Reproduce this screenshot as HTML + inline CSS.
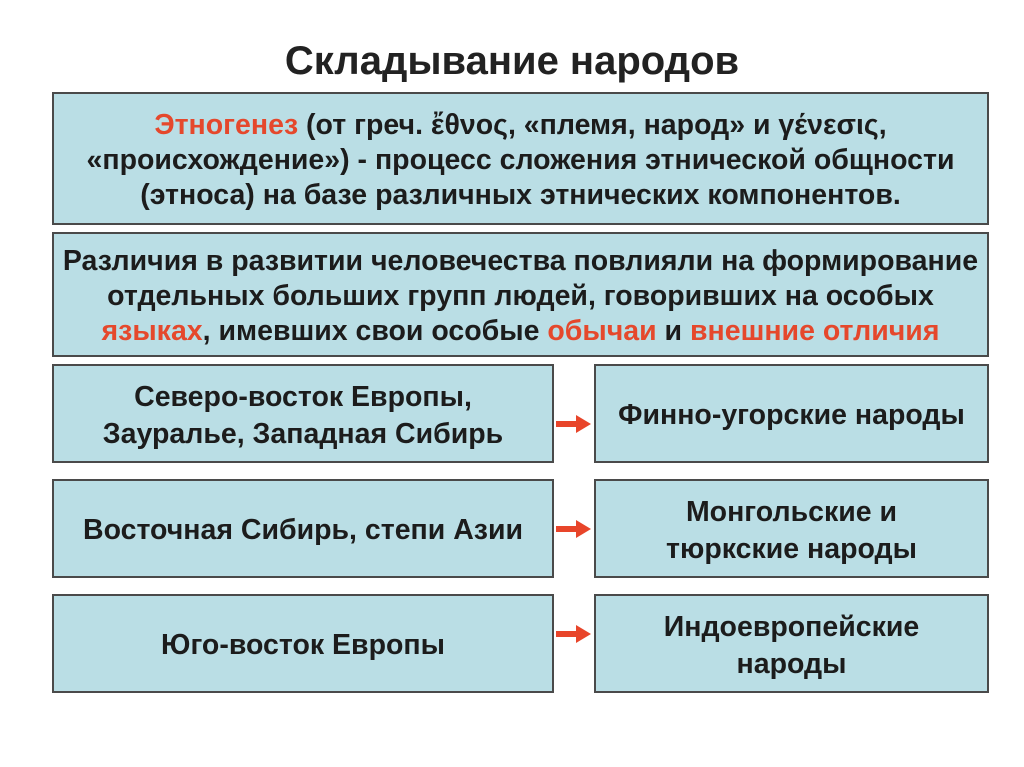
<!DOCTYPE html>
<html><head><meta charset="utf-8"><style>
body{margin:0;width:1024px;height:767px;background:#fff;position:relative;overflow:hidden;font-family:"Liberation Sans",sans-serif;font-weight:bold;color:#1c1c1c}
.t{position:absolute;left:0;width:1024px;top:39px;text-align:center;font-size:40px;color:#222}
.b{position:absolute;background:#badee5;border:2px solid #4a4a4a;box-sizing:border-box;display:flex;align-items:center;justify-content:center;text-align:center;font-size:28.5px;line-height:35px;white-space:nowrap}
.b>div{position:relative;top:2px}
.s{line-height:37px}
.r{color:#e5482c}
.a{position:absolute;left:556px;width:36px;height:20px}
</style></head><body>
<div class="t">Складывание народов</div>
<div class="b" style="left:52px;top:92px;width:937px;height:133px">
<div><span class="r">Этногенез</span> (от греч. ἔθνος, «племя, народ» и γένεσις,<br>«происхождение») - процесс сложения этнической общности<br>(этноса) на базе различных этнических компонентов.</div></div>
<div class="b" style="left:52px;top:232px;width:937px;height:125px">
<div>Различия в развитии человечества повлияли на формирование<br>отдельных больших групп людей, говоривших на особых<br><span class="r">языках</span>, имевших свои особые <span class="r">обычаи</span> и <span class="r">внешние отличия</span></div></div>
<div class="b s" style="left:52px;top:364px;width:502px;height:99px"><div>Северо-восток Европы,<br>Зауралье, Западная Сибирь</div></div>
<div class="b s" style="left:594px;top:364px;width:395px;height:99px"><div>Финно-угорские народы</div></div>
<div class="b s" style="left:52px;top:479px;width:502px;height:99px"><div>Восточная Сибирь, степи Азии</div></div>
<div class="b s" style="left:594px;top:479px;width:395px;height:99px"><div>Монгольские и<br>тюркские народы</div></div>
<div class="b s" style="left:52px;top:594px;width:502px;height:99px"><div>Юго-восток Европы</div></div>
<div class="b s" style="left:594px;top:594px;width:395px;height:99px"><div>Индоевропейские<br>народы</div></div>
<svg class="a" style="top:414px" viewBox="0 0 36 20"><rect x="0" y="7" width="22" height="6" fill="#e8452a"/><polygon points="20,1 35,10 20,19" fill="#e8452a"/></svg>
<svg class="a" style="top:519px" viewBox="0 0 36 20"><rect x="0" y="7" width="22" height="6" fill="#e8452a"/><polygon points="20,1 35,10 20,19" fill="#e8452a"/></svg>
<svg class="a" style="top:624px" viewBox="0 0 36 20"><rect x="0" y="7" width="22" height="6" fill="#e8452a"/><polygon points="20,1 35,10 20,19" fill="#e8452a"/></svg>
</body></html>
